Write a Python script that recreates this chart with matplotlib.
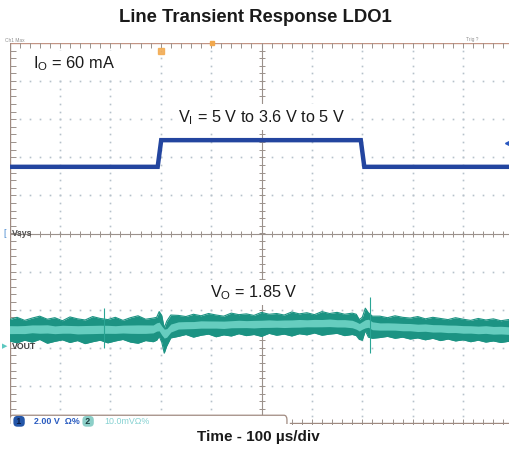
import numpy as np
import matplotlib
matplotlib.use("Agg")
import matplotlib.pyplot as plt
from matplotlib.patches import FancyBboxPatch

plt.rcParams['font.family'] = ['Liberation Sans', 'DejaVu Sans']

# ---------------- data (time in us, amplitude in scope divisions) ----------------
title = "Line Transient Response LDO1"
xlabel = "Time - 100 \u00b5s/div"

# CH1 : input voltage step (5 V -> 3.6 V -> 5 V), 2 V/div
ch1_t = [0, 294, 301, 697, 704, 1000]
ch1_div = [6.75, 6.75, 7.45, 7.45, 6.75, 6.75]

# CH2 : output voltage noise envelope, 10 mV/div
ch2_t = [0, 15, 30, 45, 60, 75, 90, 105, 120, 135, 150, 165, 180, 195, 210, 225, 240, 255, 270, 285,
         292, 297, 302, 307, 312, 320,
         335, 350, 365, 380, 395, 410, 425, 440, 455, 470, 485, 500, 515, 530, 545, 560, 575, 590,
         605, 620, 635, 650, 665, 680,
         688, 694, 700, 706, 712, 720,
         735, 750, 765, 780, 795, 810, 825, 840, 855, 870, 885, 900, 915, 930, 945, 960, 975, 990, 1000]
ch2_upper = [2.74, 2.80, 2.72, 2.78, 2.83, 2.75, 2.79, 2.71, 2.81, 2.76, 2.73, 2.82, 2.77, 2.74, 2.80, 2.72, 2.79, 2.84, 2.75, 2.78,
             2.80, 2.95, 2.85, 2.52, 2.70, 2.86,
             2.85, 2.82, 2.88, 2.84, 2.90, 2.86, 2.83, 2.91, 2.87, 2.89, 2.85, 2.93, 2.88, 2.90, 2.86, 2.94, 2.89, 2.92,
             2.87, 2.95, 2.90, 2.93, 2.88, 2.91,
             2.88, 2.74, 2.80, 3.04, 2.92, 2.83,
             2.83, 2.79, 2.84, 2.80, 2.78, 2.82, 2.76, 2.80, 2.77, 2.74, 2.79, 2.75, 2.72, 2.77, 2.73, 2.76, 2.71, 2.74, 2.72]
ch2_lower = [2.18, 2.13, 2.20, 2.15, 2.22, 2.12, 2.17, 2.21, 2.14, 2.19, 2.11, 2.16, 2.20, 2.13, 2.18, 2.22, 2.15, 2.12, 2.19, 2.16,
             2.20, 2.30, 2.15, 1.86, 2.05, 2.26,
             2.30, 2.35, 2.28, 2.33, 2.36, 2.29, 2.34, 2.31, 2.37, 2.32, 2.35, 2.30, 2.38, 2.33, 2.36, 2.31, 2.37, 2.34,
             2.39, 2.33, 2.36, 2.38, 2.32, 2.35,
             2.32, 2.22, 2.20, 2.45, 2.28, 2.25,
             2.27, 2.30, 2.25, 2.28, 2.23, 2.26, 2.21, 2.25, 2.19, 2.23, 2.18, 2.21, 2.16, 2.20, 2.15, 2.18, 2.14, 2.17, 2.15]
spike_t = [187, 716]
spike_lo = [1.99, 1.86]
spike_hi = [3.05, 3.33]

# ---------------- figure ----------------
W, H = 509, 453
fig = plt.figure(figsize=(W / 100, H / 100), dpi=100)
ax = fig.add_axes([9.5 / W, 29 / H, 504 / W, 381 / H])
ax.set_xlim(0, 1000)
ax.set_ylim(0, 10)
ax.axis('off')

# grid dots
gcol = '#b6c1ca'
for gx in [100, 200, 300, 400, 600, 700, 800, 900]:
    yy = np.arange(0.2, 10, 0.2)
    ax.plot(np.full_like(yy, gx), yy, ls='none', marker='s', ms=1.2, mew=0, color=gcol, zorder=1)
for gy in [1, 2, 3, 4, 6, 7, 8, 9]:
    xx = np.arange(20, 1000, 20)
    ax.plot(xx, np.full_like(xx, gy, dtype=float), ls='none', marker='s', ms=1.2, mew=0, color=gcol, zorder=1)

# center crosshair with ticks
ccol = '#9b918b'
ax.axvline(500, color=ccol, lw=0.8, zorder=2)
ax.axhline(5, color=ccol, lw=0.8, zorder=2)
yy = np.arange(0.2, 10, 0.2)
ax.plot(np.full_like(yy, 500), yy, ls='none', marker='_', ms=5, mew=0.7, color=ccol, zorder=2)
xx = np.arange(20, 1000, 20)
ax.plot(xx, np.full_like(xx, 5, dtype=float), ls='none', marker='|', ms=5, mew=0.7, color=ccol, zorder=2)

# borders with ticks
bcol = '#c49484'
ax.axhline(10, color=bcol, lw=1.0, zorder=2)
ax.plot(xx, np.full_like(xx, 10, dtype=float), ls='none', marker='|', ms=7, mew=0.7, color=ccol, zorder=2)
ax.axvline(0.5, color='#a08a80', lw=1.0, zorder=2)
ax.plot(np.full_like(yy, 0), yy, ls='none', marker='_', ms=8, mew=0.7, color=ccol, zorder=2)
ax.plot([557, 1000], [0.02, 0.02], color='#a08a80', lw=1.0, zorder=2)
xb = np.arange(560, 1000, 20)
ax.plot(xb, np.full_like(xb, 0, dtype=float), ls='none', marker='|', ms=7, mew=0.7, color=ccol, zorder=2)

# CH2 trace (teal band)
t2 = np.array(ch2_t, float)
u2 = np.array(ch2_upper)
l2 = np.array(ch2_lower)
ax.fill_between(t2, l2, u2, color='#1c9383', lw=0, zorder=3)
ax.plot(t2, u2, color='#1c9383', lw=0.8, zorder=3)
ax.plot(t2, l2, color='#1c9383', lw=0.8, zorder=3)
c2 = (u2 + l2) / 2
hw = (u2 - l2) / 2
c2s = np.convolve(np.pad(c2, 1, mode='edge'), np.ones(3) / 3, mode='valid')
hws = np.convolve(np.pad(hw, 1, mode='edge'), np.ones(3) / 3, mode='valid')
ax.fill_between(t2, c2s - 0.3 * hws, c2s + 0.4 * hws, color='#66cdbf', lw=0, zorder=4)
ax.vlines(spike_t, spike_lo, spike_hi, color='#2aa595', lw=0.8, zorder=4)

# CH1 trace
ax.plot(ch1_t, ch1_div, color='#23459f', lw=3.2, solid_joinstyle='miter', zorder=5)
ax.plot([989], [7.38], ls='none', marker='<', ms=4, color='#2a58c0', zorder=6, clip_on=False)

# markers
ax.plot([300.6], [9.8], ls='none', marker='s', ms=5, color='#f2a84c', alpha=0.85, zorder=6)
ax.plot([402], [10.0], ls='none', marker='s', ms=3.5, color='#f2a84c', zorder=6, clip_on=False)

# annotations
wb = dict(fc='white', ec='none', pad=2.5)
ax.text(46, 9.34, r"$\mathregular{I_O}$ = 60 mA", fontsize=11.8, color='#1a1a1a', va='baseline', ha='left',
        zorder=7, bbox=wb)
ax.text(334, 7.93, r"$\mathregular{V_I}$ = 5 V to 3.6 V to 5 V", fontsize=11.7, color='#1a1a1a',
        va='baseline', ha='left', zorder=7, bbox=wb)
ax.text(398, 3.33, r"$\mathregular{V_O}$ = 1.85 V", fontsize=11.7, color='#1a1a1a', va='baseline', ha='left',
        zorder=7, bbox=wb)

# channel labels
ax.text(5, 5.0, "Vsys", fontsize=6.3, fontweight='bold', color='#505050', va='center', ha='left', zorder=7)
ax.text(5, 2.03, "VOUT", fontsize=6.3, fontweight='bold', color='#404040', va='center', ha='left', zorder=7)
fig.text(3 / W, 1 - 234 / H, "[", fontsize=6.5, color='#4a8ad0', va='center', ha='left')
fig.text(2 / W, 1 - 347 / H, "\u25b6", fontsize=5, color='#5cc8c0', va='center', ha='left')

# bottom channel box
box = FancyBboxPatch((0.5, -0.3), 550, 0.53, boxstyle="round,pad=0,rounding_size=6",
                     facecolor='white', edgecolor='#a08a80', lw=0.9, zorder=6, mutation_aspect=0.02)
ax.add_patch(box)
ax.text(19, 0.07, " 1 ", fontsize=6.3, fontweight='bold', color='#0c1d45', va='center', ha='center', zorder=8,
        bbox=dict(boxstyle='round,pad=0.1,rounding_size=0.45', fc='#2456a8', ec='none'))
ax.text(48, 0.07, "2.00 V  \u03a9%", fontsize=6.4, fontweight='bold', color='#2a5cc0', va='center', ha='left',
        zorder=8)
ax.text(156, 0.07, " 2 ", fontsize=6.3, fontweight='bold', color='#1d3d3d', va='center', ha='center', zorder=8,
        bbox=dict(boxstyle='round,pad=0.1,rounding_size=0.45', fc='#8ccfc8', ec='none'))
ax.text(188, 0.07, "10.0mV\u03a9%", fontsize=6.4, color='#86d2d2', va='center', ha='left', zorder=8)

# tiny header texts
fig.text(5 / W, 1 - 40 / H, "Ch1 Max", fontsize=3.5, color='#909090', va='center', ha='left')
fig.text(466 / W, 1 - 39 / H, "Trig ?", fontsize=3.5, color='#909090', va='center', ha='left')

# title and x label
fig.text(255 / W, 1 - 18 / H, title, fontsize=13.3, fontweight='bold', color='#1a1a1a', ha='center', va='center')
fig.text(258 / W, 1 - 437 / H, xlabel, fontsize=11, fontweight='bold', color='#1a1a1a', ha='center', va='center')

fig.savefig("out.png", dpi=100)
